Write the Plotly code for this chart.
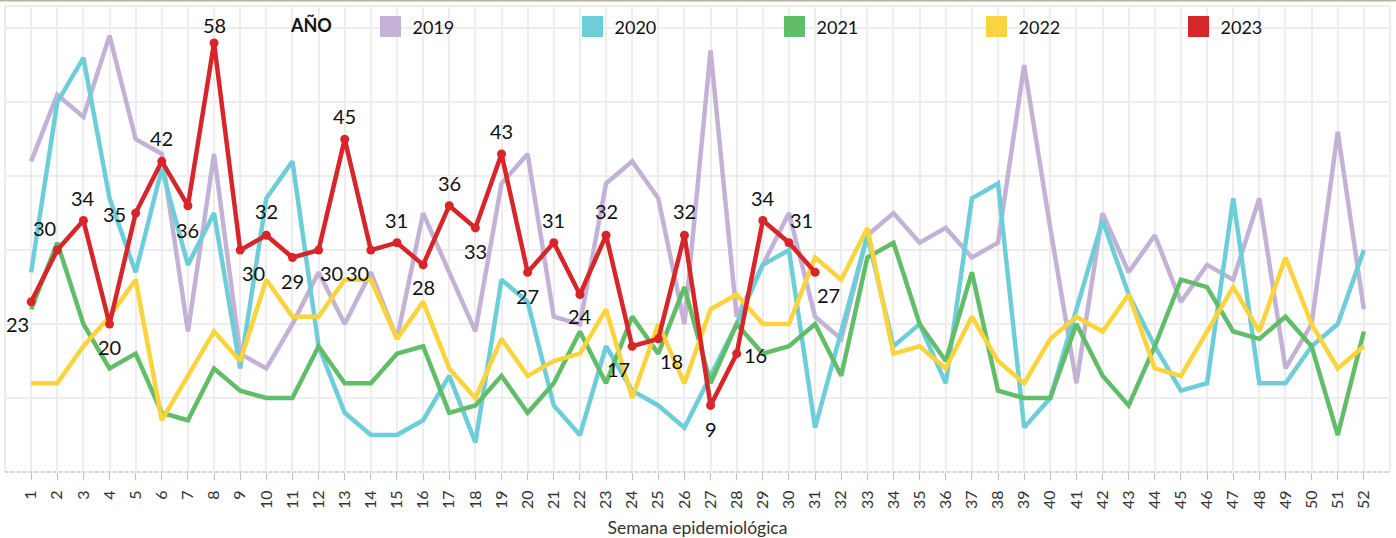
import plotly.graph_objects as go

weeks = list(range(1, 53))

y2019 = [42, 51, 48, 59, 45, 43, 19, 43, 16, 14, 20, 27, 20, 27, 18, 35, 27, 19, 39, 43,
         21, 20, 39, 42, 37, 20, 57, 21, 28, 35, 21, 18, 32, 35, 31, 33, 29, 31, 55, 33,
         12, 35, 27, 32, 23, 28, 26, 37, 14, 20, 46, 22]
y2020 = [27, 50, 56, 37, 27, 41, 28, 35, 14, 37, 42, 17, 8, 5, 5, 7, 13, 4, 26, 23,
         9, 5, 17, 11, 9, 6, 13, 20, 28, 30, 6, 19, 32, 17, 20, 12, 37, 39, 6, 10,
         22, 34, 24, 17, 11, 12, 37, 12, 12, 17, 20, 30]
y2021 = [22, 31, 20, 14, 16, 8, 7, 14, 11, 10, 10, 17, 12, 12, 16, 17, 8, 9, 13, 8,
         12, 19, 12, 21, 16, 25, 12, 20, 16, 17, 20, 13, 29, 31, 20, 15, 27, 11, 10, 10,
         20, 13, 9, 17, 26, 25, 19, 18, 21, 17, 5, 19]
y2022 = [12, 12, 17, 21, 26, 7, 13, 19, 15, 26, 21, 21, 26, 26, 18, 23, 14, 10, 18, 13,
         15, 16, 22, 10, 20, 12, 22, 24, 20, 20, 29, 26, 33, 16, 17, 14, 21, 15, 12, 18,
         21, 19, 24, 14, 13, 19, 25, 19, 29, 20, 14, 17]
y2023 = [23, 30, 34, 20, 35, 42, 36, 58, 30, 32, 29, 30, 45, 30, 31, 28, 36, 33, 43, 27,
         31, 24, 32, 17, 18, 32, 9, 16, 34, 31, 27]

# label offsets (pixels, dx right, dy down) for the 2023 data labels -- style only
label_dx = [-14, -13, 0, 0, -21, 0, 0, 0, 13, 0, 0, 13, 0, -13, 0, 0, 0, 0, 0, 0,
            0, 0, 0, -14, 13, 0, 0, 19, 0, 13, 13]
label_dy = [22, -22, -23, 23, 1, -23, 24, -18, 23, -24, 24, 23, -23, 23, -23, 22, -23, 23, -23, 24,
            -23, 22, -24, 23, 22, -24, 24, 1, -23, -23, 23]

years = ["2019", "2020", "2021", "2022", "2023"]
colors = ["#C4B1D6", "#6DCDD9", "#62BD69", "#FBD33C", "#D7262A"]
series = [y2019, y2020, y2021, y2022, y2023]

FONT = "Lato, 'Open Sans', sans-serif"

fig = go.Figure()

for name, col, ys in zip(years, colors, series):
    if name == "2023":
        fig.add_trace(go.Scatter(
            x=weeks[:len(ys)], y=ys, name=name, showlegend=False,
            mode="lines+markers",
            line=dict(color=col, width=4.5),
            marker=dict(color=col, size=9),
        ))
    else:
        fig.add_trace(go.Scatter(
            x=weeks, y=ys, name=name, showlegend=False, mode="lines",
            line=dict(color=col, width=4.5),
        ))

# legend entries (square swatches)
for name, col in zip(years, colors):
    fig.add_trace(go.Scatter(
        x=[None], y=[None], name=name, mode="markers",
        marker=dict(symbol="square", size=16, color=col, line=dict(width=5, color=col)),
    ))

annotations = []
for w, v, dx, dy in zip(weeks, y2023, label_dx, label_dy):
    annotations.append(dict(
        x=w, y=v, xref="x", yref="y", text=str(v), showarrow=False,
        xshift=dx, yshift=-dy, xanchor="center", yanchor="middle",
        font=dict(family=FONT, size=20, color="#111111"),
    ))

fig.update_layout(
    width=1396, height=538,
    margin=dict(l=5, r=6, t=6, b=66),
    paper_bgcolor="white", plot_bgcolor="white",
    font=dict(family=FONT, color="#222222"),
    legend=dict(
        orientation="h", x=0.205, y=0.995, xanchor="left", yanchor="top",
        title=dict(text="<b>AÑO</b>" + "&nbsp;" * 6, side="left",
                   font=dict(size=18, color="#111111")),
        font=dict(size=18, color="#111111"),
        itemwidth=34,
        entrywidth=153, entrywidthmode="pixels",
        bgcolor="rgba(0,0,0,0)",
    ),
    xaxis=dict(
        range=[0, 53], tickmode="array", tickvals=weeks, ticktext=[str(w) for w in weeks],
        tickangle=-90, tickfont=dict(size=16, color="#333333"),
        ticks="outside", ticklen=7, tickcolor="#BFBFBF", ticklabelstandoff=4,
        showgrid=True, gridcolor="#EDEDED", gridwidth=2,
        zeroline=False, showline=False,
        title=dict(text="Semana epidemiológica", font=dict(size=17.5, color="#333333"), standoff=13),
    ),
    yaxis=dict(
        range=[0, 63], dtick=10, tick0=0, showticklabels=False,
        showgrid=True, gridcolor="#EDEDED", gridwidth=2,
        zeroline=False, showline=False,
    ),
    annotations=annotations,
    shapes=[
        dict(type="rect", xref="paper", yref="paper", x0=0, x1=1, y0=0, y1=1,
             line=dict(color="#D9D9D9", width=1), layer="below"),
        dict(type="line", xref="paper", yref="paper", x0=0, x1=1, y0=0, y1=0,
             line=dict(color="#BFBFBF", width=1, dash="dot")),
        dict(type="line", xref="paper", yref="paper", x0=-0.01, x1=1.01, y0=1.0118, y1=1.0118,
             line=dict(color="#B9B3A4", width=2)),
    ],
)

fig.write_html("out.html", config={"displayModeBar": False},
               post_script="document.body.style.margin='0px';")
